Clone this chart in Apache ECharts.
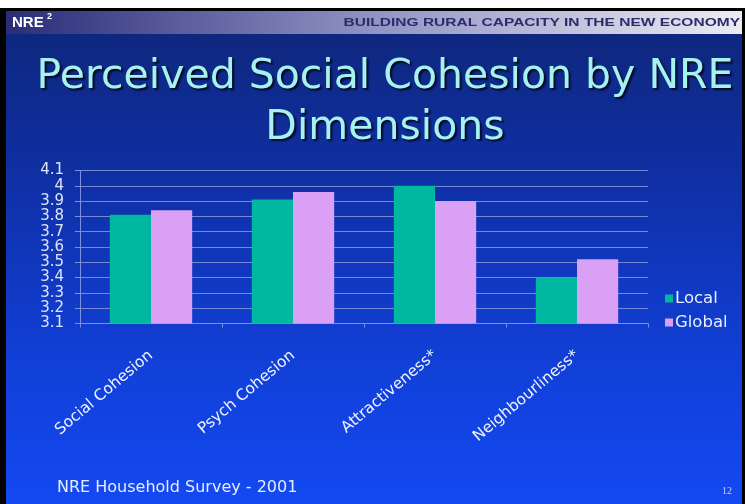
<!DOCTYPE html>
<html><head><meta charset="utf-8">
<script src="https://cdn.jsdelivr.net/npm/echarts@6/dist/echarts.min.js"></script>
<style>html,body{margin:0;padding:0;background:#fff}#c{width:745px;height:504px}</style>
</head><body><div id="c"></div>
<script>
const categories = ['Social Cohesion', 'Psych Cohesion', 'Attractiveness*', 'Neighbourliness*'];
const seriesNames = ['Local', 'Global'];
const localValues = [3.81, 3.91, 4.00, 3.40];
const globalValues = [3.84, 3.96, 3.90, 3.52];
const yMin = 3.1, yMax = 4.1, yStep = 0.1;
const titleText = 'Perceived Social Cohesion by NRE\nDimensions';
const headerLeft = 'NRE';
const headerSup = '2';
const headerRight = 'BUILDING RURAL CAPACITY IN THE NEW ECONOMY';
const footerText = 'NRE Household Survey - 2001';
const pageNumber = '12';

const chart = echarts.init(document.getElementById('c'));
const font = '"DejaVu Sans", Verdana, sans-serif';
chart.setOption({
  backgroundColor: '#ffffff',
  animation: false,
  title: {
    text: titleText,
    left: 385, top: 52, textAlign: 'center', padding: 0,
    textStyle: {
      color: '#a6f2ee', fontFamily: font, fontWeight: 'normal', fontSize: 41, lineHeight: 51,
      textShadowColor: 'rgba(0,0,20,0.85)', textShadowOffsetX: 2, textShadowOffsetY: 2, textShadowBlur: 2
    }
  },
  graphic: [
    { type: 'rect', z: -30, shape: { x: 0, y: 8, width: 745, height: 496 }, style: { fill: '#000' } },
    { type: 'rect', z: -20, shape: { x: 6, y: 11, width: 736, height: 493 },
      style: { fill: new echarts.graphic.LinearGradient(0, 0, 0, 1, [
        { offset: 0, color: '#0e2678' }, { offset: 0.35, color: '#0f30a6' },
        { offset: 0.7, color: '#113fd6' }, { offset: 1, color: '#1449f2' }]) } },
    { type: 'rect', z: -10, shape: { x: 6, y: 11, width: 736, height: 23 },
      style: { fill: new echarts.graphic.LinearGradient(0, 0, 1, 0, [
        { offset: 0, color: '#2a2c78' }, { offset: 0.5, color: '#9193c4' }, { offset: 1, color: '#ececf2' }]) } },
    { type: 'text', z: -5, x: 12, y: 23, style: { text: headerLeft, fill: '#ffffff',
      font: 'bold 15px "Liberation Sans", Arial, sans-serif', textVerticalAlign: 'middle' } },
    { type: 'text', z: -5, x: 47, y: 17, style: { text: headerSup, fill: '#ffffff',
      font: 'bold 9px "Liberation Sans", Arial, sans-serif', textVerticalAlign: 'middle' } },
    { type: 'text', z: -5, x: 740, y: 23, scaleX: 1.35, style: { text: headerRight, fill: '#2a2c6c',
      font: 'bold 11.5px "Liberation Sans", Arial, sans-serif', textAlign: 'right', textVerticalAlign: 'middle' } },
    { type: 'text', z: -5, x: 57, y: 488, style: { text: footerText, fill: '#e6ecff',
      font: '16px ' + font, textVerticalAlign: 'middle' } },
    { type: 'text', z: -5, x: 727, y: 491, style: { text: pageNumber, fill: '#c8d0f0',
      font: '10px "Liberation Serif", serif', textAlign: 'center', textVerticalAlign: 'middle' } }
  ],
  legend: {
    orient: 'vertical', left: 660, top: 285, itemWidth: 8, itemHeight: 8, itemGap: 7,
    icon: 'rect', data: seriesNames,
    textStyle: { color: '#e8eeff', fontFamily: font, fontSize: 16.5, lineHeight: 17, padding: [0, 0, 0, -3] }
  },
  grid: { left: 80, right: 97, top: 170.5, bottom: 180.5, containLabel: false },
  xAxis: {
    type: 'category', data: categories,
    axisLine: { lineStyle: { color: '#7d8fe0', width: 1 } },
    axisTick: { show: true, length: 4, lineStyle: { color: '#7d8fe0' } },
    axisLabel: { rotate: 40, interval: 0, color: '#eef2ff', fontFamily: font, fontSize: 15.5, margin: 30 },
    splitLine: { show: false }
  },
  yAxis: {
    type: 'value', min: yMin, max: yMax, interval: yStep,
    axisLine: { show: true, lineStyle: { color: '#7d8fe0', width: 1 } },
    axisTick: { show: true, length: 5, lineStyle: { color: '#7d8fe0' } },
    axisLabel: { color: '#dde4fa', fontFamily: font, fontSize: 15, margin: 16, lineHeight: 12,
      showMinLabel: true, showMaxLabel: true, hideOverlap: false,
      formatter: v => String(Math.round(v * 10) / 10) },
    splitLine: { show: true, lineStyle: { color: '#7888d8', width: 1 } }
  },
  series: [
    { name: seriesNames[0], type: 'bar', data: localValues, barGap: '0%', barCategoryGap: '42%',
      itemStyle: { color: '#00b89f' } },
    { name: seriesNames[1], type: 'bar', data: globalValues, barGap: '0%', barCategoryGap: '42%',
      itemStyle: { color: '#d9a0f6' } }
  ]
});
</script></body></html>
